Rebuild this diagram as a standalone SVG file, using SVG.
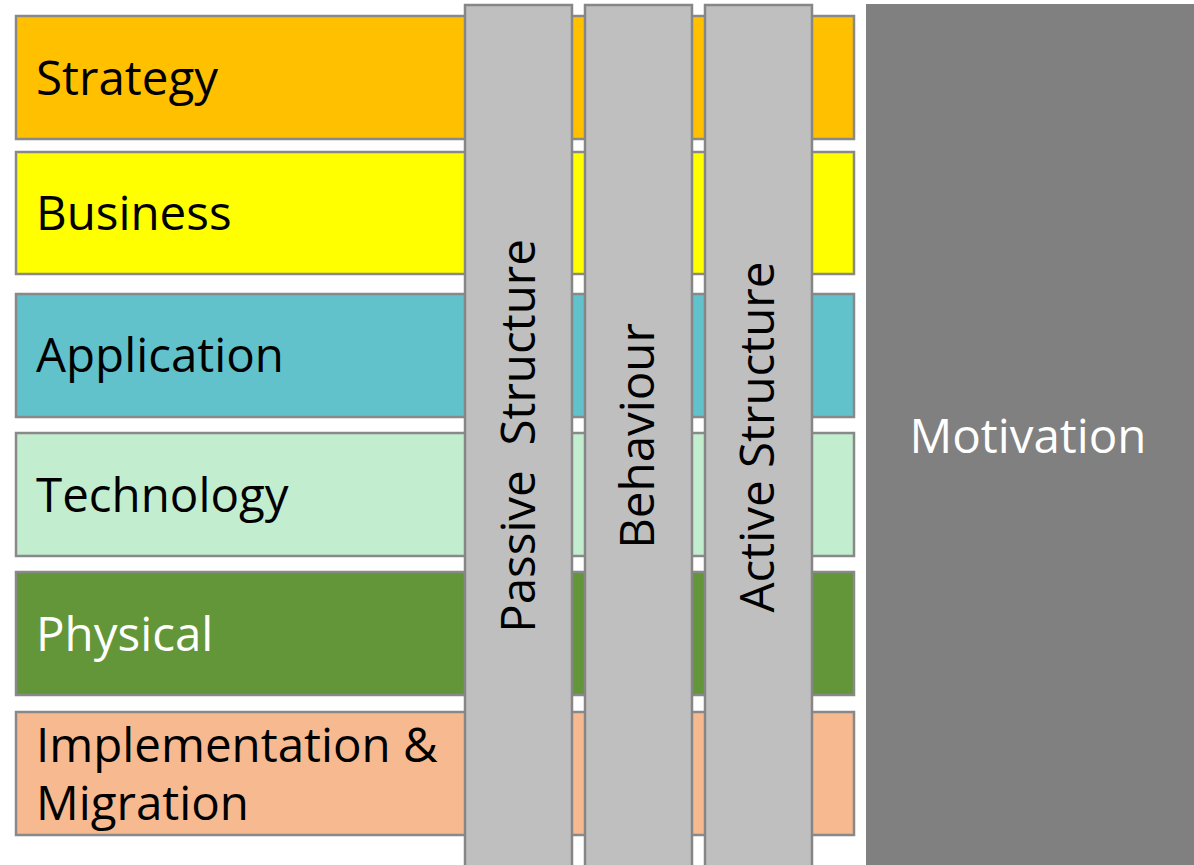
<svg xmlns="http://www.w3.org/2000/svg" width="1194" height="865" viewBox="0 0 1194 865">
<style>
.row{stroke:#898989;stroke-width:2.5}
.col{fill:#bfbfbf;stroke:#868686;stroke-width:2.5}
.t{font-family:"Open Sans","Noto Sans","Liberation Sans",sans-serif;font-size:47.5px;fill:#000}
.w{fill:#fff}
</style>
<rect width="1194" height="865" fill="#fff"/>
<g id="strategy"><rect class="row" x="16" y="16" width="838" height="123" fill="#ffc000"/><text class="t" x="36" y="95">Strategy</text></g>
<g id="business"><rect class="row" x="16" y="152" width="838" height="122" fill="#ffff00"/><text class="t" x="36" y="230">Business</text></g>
<g id="application"><rect class="row" x="16" y="294" width="838" height="123" fill="#61c2cb"/><text class="t" x="36" y="372">Application</text></g>
<g id="technology"><rect class="row" x="16" y="433" width="838" height="123" fill="#c2edcf"/><text class="t" x="36" y="512">Technology</text></g>
<g id="physical"><rect class="row" x="16" y="572" width="838" height="123" fill="#639638"/><text class="t w" x="36" y="651">Physical</text></g>
<g id="implementation"><rect class="row" x="16" y="712" width="838" height="123" fill="#f7b98f"/><text class="t" x="36" y="762">Implementation &amp;</text><text class="t" x="36" y="820">Migration</text></g>
<g id="passive"><rect class="col" x="465" y="5" width="107" height="870"/><text class="t" transform="translate(535,436) rotate(-90)" text-anchor="middle" xml:space="preserve">Passive  Structure</text></g>
<g id="behaviour"><rect class="col" x="585" y="5" width="107" height="870"/><text class="t" transform="translate(654,436) rotate(-90)" text-anchor="middle">Behaviour</text></g>
<g id="active"><rect class="col" x="705" y="5" width="107" height="870"/><text class="t" transform="translate(774,437) rotate(-90)" text-anchor="middle">Active Structure</text></g>
<g id="motivation"><rect x="866" y="4" width="340" height="870" fill="#808080"/><text class="t w" x="1028" y="453" text-anchor="middle">Motivation</text></g>
<g id="connectors"/>
</svg>
